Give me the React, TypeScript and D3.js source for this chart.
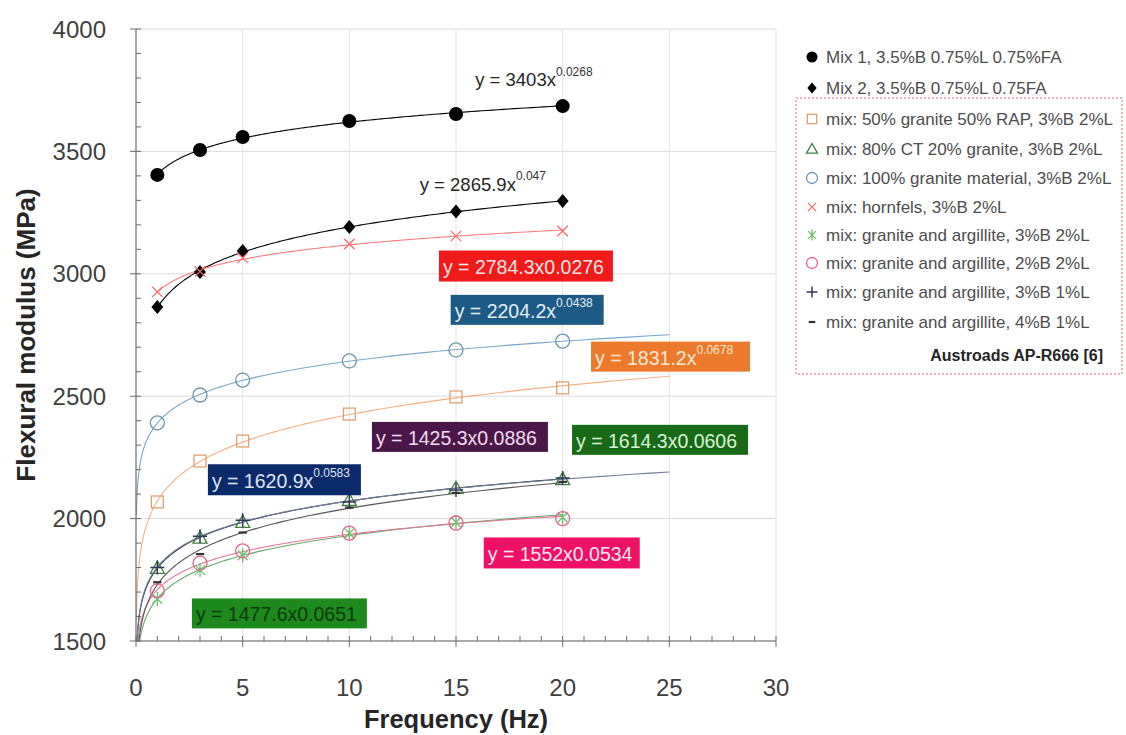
import * as d3 from 'd3';

// frequencies tested (Hz)
const freq = [1, 3, 5, 10, 15, 20];

// flexural modulus (MPa) per mix
const mix1 = [3404, 3506, 3559, 3624, 3653, 3685];
const mix2 = [2864, 3007, 3093, 3191, 3255, 3297];
const rap50 = [2068, 2235, 2317, 2427, 2497, 2534];
const ct80 = [1798, 1921, 1986, 2075, 2125, 2160];
const granite100 = [2391, 2505, 2566, 2644, 2689, 2725];
const hornfels = [2926, 3010, 3065, 3122, 3154, 3175];
const ga3b2l = [1672, 1790, 1850, 1940, 1985, 2005];
const ga2b2l = [1705, 1818, 1868, 1941, 1982, 2000];
const ga3b1l = [1800, 1928, 1993, 2068, 2117, 2166];
const ga4b1l = [1740, 1855, 1943, 2045, 2105, 2150];

const legendNames = [
  'Mix 1, 3.5%B 0.75%L 0.75%FA',
  'Mix 2, 3.5%B 0.75%L 0.75FA',
  'mix: 50% granite 50% RAP, 3%B 2%L',
  'mix: 80% CT 20% granite, 3%B 2%L',
  'mix: 100% granite material, 3%B 2%L',
  'mix: hornfels, 3%B 2%L',
  'mix: granite and argillite, 3%B 2%L',
  'mix: granite and argillite, 2%B 2%L',
  'mix: granite and argillite, 3%B 1%L',
  'mix: granite and argillite, 4%B 1%L',
];

const xTicks = [0, 5, 10, 15, 20, 25, 30];
const yTicks = [1500, 2000, 2500, 3000, 3500, 4000];

// series drawing options
const series = [
  { values: mix1, marker: 'dot', color: '#000', line: '#000', from: 1, to: 20 },
  { values: mix2, marker: 'diamond', color: '#000', line: '#000', from: 1, to: 20 },
  { values: rap50, marker: 'square', color: '#e0a070', line: '#f4b183', from: 0.02, to: 25 },
  { values: ct80, marker: 'triangle', color: '#3f7f3f', line: '#333', from: 0.02, to: 20 },
  { values: granite100, marker: 'circle', color: '#6a95ad', line: '#7ba7c9', from: 0.02, to: 25 },
  { values: hornfels, marker: 'cross', color: '#ff6b6b', line: '#ff7d7d', from: 1, to: 20 },
  { values: ga3b2l, marker: 'star', color: '#6cbf6c', line: '#6aa86a', from: 0.02, to: 20 },
  { values: ga2b2l, marker: 'circle', color: '#e2648f', line: '#e27a98', from: 0.02, to: 20 },
  { values: ga3b1l, marker: 'plus', color: '#2f3a5a', line: '#6f7f9f', from: 0.02, to: 25 },
  { values: ga4b1l, marker: 'dash', color: '#333', line: '#555', from: 0.02, to: 20 },
];

// trendline equation labels (box left/top in data units)
const equations = [
  { base: 'y = 2784.3x0.0276', sup: '', fx: 14.2, fy: 3095, w: 174, h: 31, fill: '#f01a1a', text: '#ffe4e4' },
  { base: 'y = 2204.2x', sup: '0.0438', fx: 14.75, fy: 2914, w: 153, h: 30, fill: '#1d5a85', text: '#e2edf6' },
  { base: 'y = 1831.2x', sup: '0.0678', fx: 21.33, fy: 2723, w: 159, h: 30, fill: '#ec7a2c', text: '#fde8d4' },
  { base: 'y = 1425.3x0.0886', sup: '', fx: 11.06, fy: 2395, w: 176, h: 30, fill: '#4a1848', text: '#f2dcf0' },
  { base: 'y = 1614.3x0.0606', sup: '', fx: 20.44, fy: 2383, w: 176, h: 30, fill: '#186a18', text: '#daf2d6' },
  { base: 'y = 1620.9x', sup: '0.0583', fx: 3.37, fy: 2222, w: 153, h: 31, fill: '#0b2a6a', text: '#dfe4f4' },
  { base: 'y = 1552x0.0534', sup: '', fx: 16.3, fy: 1923, w: 156, h: 31, fill: '#ee1166', text: '#ffe6f0' },
  { base: 'y = 1477.6x0.0651', sup: '', fx: 2.62, fy: 1674, w: 175, h: 30, fill: '#1e8a1e', text: '#0b3a0b' },
];

const plainEqs = [
  { base: 'y = 3403x', sup: '0.0268', fx: 15.9, fy: 3792 },
  { base: 'y = 2865.9x', sup: '0.047', fx: 13.3, fy: 3365 },
];

const FONT = "'Liberation Sans', Arial, sans-serif";

const x = d3.scaleLinear().domain([0, 30]).range([136, 776]);
const y = d3.scaleLinear().domain([1500, 4000]).range([641, 29]);

function powerFit(xs: number[], ys: number[]) {
  const lx = xs.map(Math.log);
  const ly = ys.map(Math.log);
  const mx = d3.mean(lx)!;
  const my = d3.mean(ly)!;
  const b = d3.sum(lx, (v, i) => (v - mx) * (ly[i] - my)) / d3.sum(lx, (v) => (v - mx) ** 2);
  const a = Math.exp(my - b * mx);
  return (t: number) => a * Math.pow(t, b);
}

function Marker({ type, cx, cy, s, color }: any) {
  const sw = 1.3;
  switch (type) {
    case 'dot':
      return <circle cx={cx} cy={cy} r={s} fill={color} />;
    case 'diamond':
      return <path d={`M${cx},${cy - s}L${cx + s * 0.85},${cy}L${cx},${cy + s}L${cx - s * 0.85},${cy}Z`} fill={color} />;
    case 'square':
      return <rect x={cx - s * 0.85} y={cy - s * 0.85} width={s * 1.7} height={s * 1.7} fill="none" stroke={color} strokeWidth={sw} />;
    case 'triangle':
      return <path d={`M${cx},${cy - s}L${cx + s},${cy + s * 0.75}L${cx - s},${cy + s * 0.75}Z`} fill="none" stroke={color} strokeWidth={sw} />;
    case 'circle':
      return <circle cx={cx} cy={cy} r={s} fill="none" stroke={color} strokeWidth={sw} />;
    case 'cross': {
      const k = s * 0.75;
      return <path d={`M${cx - k},${cy - k}L${cx + k},${cy + k}M${cx - k},${cy + k}L${cx + k},${cy - k}`} stroke={color} strokeWidth={sw} />;
    }
    case 'star': {
      const k = s * 0.7;
      return <path d={`M${cx - k},${cy - k}L${cx + k},${cy + k}M${cx - k},${cy + k}L${cx + k},${cy - k}M${cx},${cy - s}L${cx},${cy + s}`} stroke={color} strokeWidth={sw} />;
    }
    case 'plus':
      return <path d={`M${cx - s},${cy}L${cx + s},${cy}M${cx},${cy - s}L${cx},${cy + s}`} stroke={color} strokeWidth={1.5} />;
    case 'dash':
      return <path d={`M${cx - s * 0.6},${cy}L${cx + s * 0.6},${cy}`} stroke={color} strokeWidth={2.2} />;
    default:
      return null;
  }
}

export default function App() {
  const [x0, x1] = x.range();
  const [yb, yt] = y.range();
  const line = d3.line<number>().x((t) => x(t)).curve(d3.curveLinear);

  const legendRows = [57, 88, 119, 149, 178, 207, 235, 263, 292, 322];

  return (
    <svg width={1126} height={735} style={{ position: 'absolute', left: 0, top: 0, background: '#fff' }} fontFamily={FONT}>
      <defs>
        <clipPath id="plot">
          <rect x={x0} y={yt} width={x1 - x0} height={yb - yt} />
        </clipPath>
      </defs>

      {/* gridlines */}
      {yTicks.map((v) => (
        <line key={'gy' + v} x1={x0} x2={x1} y1={y(v)} y2={y(v)} stroke="#dcdcdc" strokeWidth={1} />
      ))}
      {xTicks.slice(1).map((v) => (
        <line key={'gx' + v} x1={x(v)} x2={x(v)} y1={yt} y2={yb} stroke="#e4e4e4" strokeWidth={1} />
      ))}

      {/* trendlines */}
      <g clipPath="url(#plot)">
        {series.map((s, i) => {
          const f = powerFit(freq, s.values);
          const ts = d3.range(0, 201).map((k) => s.from * Math.pow(s.to / s.from, k / 200));
          const l = line.y((t) => y(f(t)));
          return <path key={'l' + i} d={l(ts) || ''} fill="none" stroke={s.line} strokeWidth={1.1} />;
        })}
      </g>

      {/* markers */}
      {series.map((s, i) => (
        <g key={'m' + i}>
          {s.values.map((v, j) => (
            <Marker key={j} type={s.marker} cx={x(freq[j])} cy={y(v)} s={7} color={s.color} />
          ))}
        </g>
      ))}

      {/* axes */}
      <line x1={x0} x2={x0} y1={yt} y2={yb} stroke="#6b6b6b" strokeWidth={1.2} />
      <line x1={x0} x2={x1} y1={yb} y2={yb} stroke="#6b6b6b" strokeWidth={1.2} />
      {d3.range(1500, 4001, 100).map((v) => (
        <line key={'ty' + v} x1={v % 500 === 0 ? x0 - 6 : x0} x2={x0 + 5} y1={y(v)} y2={y(v)} stroke="#6b6b6b" strokeWidth={1} />
      ))}
      {d3.range(0, 31, 1).map((v) => (
        <line key={'tx' + v} x1={x(v)} x2={x(v)} y1={yb - 5} y2={v % 5 === 0 ? yb + 6 : yb} stroke="#6b6b6b" strokeWidth={1} />
      ))}
      {yTicks.map((v) => (
        <text key={'yl' + v} x={106} y={y(v)} textAnchor="end" dominantBaseline="central" fontSize={24} fill="#404040">
          {v}
        </text>
      ))}
      {xTicks.map((v) => (
        <text key={'xl' + v} x={x(v)} y={687} textAnchor="middle" dominantBaseline="central" fontSize={24} fill="#404040">
          {v}
        </text>
      ))}
      <text x={456} y={719} textAnchor="middle" dominantBaseline="central" fontSize={25.5} fontWeight="bold" fill="#262626">
        Frequency (Hz)
      </text>
      <text transform={`translate(26,335) rotate(-90)`} textAnchor="middle" dominantBaseline="central" fontSize={26} fontWeight="bold" fill="#262626">
        Flexural modulus (MPa)
      </text>

      {/* plain equations */}
      {plainEqs.map((e, i) => (
        <text key={'pe' + i} x={x(e.fx)} y={y(e.fy)} fontSize={18.5} fill="#262626" dominantBaseline="central">
          {e.base}
          <tspan fontSize={12} dy={-8} fill="#333">{e.sup}</tspan>
        </text>
      ))}

      {/* boxed equations */}
      {equations.map((e, i) => {
        const bx = x(e.fx);
        const by = y(e.fy);
        return (
          <g key={'eq' + i}>
            <rect x={bx} y={by} width={e.w} height={e.h} fill={e.fill} />
            <text x={bx + 4} y={by + e.h / 2 + 1} fontSize={19.5} fill={e.text} dominantBaseline="central">
              {e.base}
              {e.sup && (
                <tspan fontSize={12} dy={-8}>
                  {e.sup}
                </tspan>
              )}
            </text>
          </g>
        );
      })}

      {/* legend */}
      <rect x={796} y={98} width={326} height={276} fill="none" stroke="#e06a6a" strokeWidth={1} strokeDasharray="2,2" />
      {series.map((s, i) => (
        <g key={'lg' + i}>
          <Marker type={s.marker} cx={812} cy={legendRows[i]} s={5.5} color={s.color} />
          <text x={826} y={legendRows[i]} fontSize={17} fill="#4d4d4d" dominantBaseline="central">
            {legendNames[i]}
          </text>
        </g>
      ))}
      <text x={1103} y={355} textAnchor="end" fontSize={16} fontWeight="bold" fill="#262626" dominantBaseline="central">
        Austroads AP-R666 [6]
      </text>
    </svg>
  );
}
